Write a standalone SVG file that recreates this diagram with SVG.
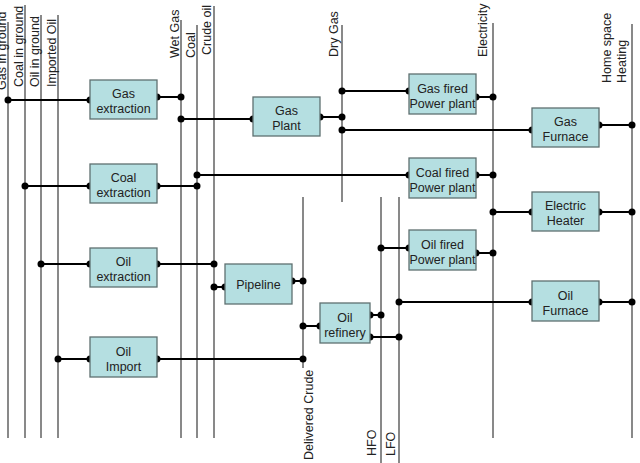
<svg xmlns="http://www.w3.org/2000/svg" width="640" height="463" viewBox="0 0 640 463">
<style>
.bus{stroke:#4a4a4a;stroke-width:1.3;fill:none}
.lbl{font-family:"Liberation Sans",Arial,sans-serif;font-size:12.5px;fill:#222}
.box{fill:#b5dfe1;stroke:#5f7070;stroke-width:1.3}
.bt{font-family:"Liberation Sans",Arial,sans-serif;font-size:12.5px;fill:#222;text-anchor:middle}
.c{stroke:#000;stroke-width:2;fill:none}
.d{fill:#000}
</style>
<rect width="640" height="463" fill="#fff"/>
<g id="buses">
  <g id="bus-gas-in-ground"><line class="bus" x1="8" y1="22" x2="8" y2="438"/><text class="lbl" transform="translate(6,90) rotate(-90)">Gas in ground</text></g>
  <g id="bus-coal-in-ground"><line class="bus" x1="25" y1="5" x2="25" y2="438"/><text class="lbl" transform="translate(23,87) rotate(-90)">Coal in ground</text></g>
  <g id="bus-oil-in-ground"><line class="bus" x1="41" y1="15" x2="41" y2="438"/><text class="lbl" transform="translate(39,87) rotate(-90)">Oil in ground</text></g>
  <g id="bus-imported-oil"><line class="bus" x1="58" y1="15" x2="58" y2="438"/><text class="lbl" transform="translate(55.5,87) rotate(-90)">Imported Oil</text></g>
  <g id="bus-wet-gas"><line class="bus" x1="181" y1="20" x2="181" y2="438"/><text class="lbl" transform="translate(178.5,58) rotate(-90)">Wet Gas</text></g>
  <g id="bus-coal"><line class="bus" x1="197" y1="25" x2="197" y2="438"/><text class="lbl" transform="translate(194.5,58) rotate(-90)">Coal</text></g>
  <g id="bus-crude-oil"><line class="bus" x1="214" y1="6" x2="214" y2="438"/><text class="lbl" transform="translate(211,55) rotate(-90)">Crude oil</text></g>
  <g id="bus-dry-gas"><line class="bus" x1="342" y1="25" x2="342" y2="202"/><text class="lbl" transform="translate(338,57) rotate(-90)">Dry Gas</text></g>
  <g id="bus-electricity"><line class="bus" x1="493" y1="23" x2="493" y2="438"/><text class="lbl" transform="translate(486.5,57) rotate(-90)">Electricity</text></g>
  <g id="bus-home-space-heating"><line class="bus" x1="632" y1="24" x2="632" y2="438"/><text class="lbl" transform="translate(611,83) rotate(-90)">Home space</text><text class="lbl" transform="translate(625.5,83) rotate(-90)">Heating</text></g>
  <g id="bus-delivered-crude"><line class="bus" x1="303" y1="197" x2="303" y2="368"/><text class="lbl" transform="translate(313,460) rotate(-90)">Delivered Crude</text></g>
  <g id="bus-hfo"><line class="bus" x1="381" y1="197" x2="381" y2="463"/><text class="lbl" transform="translate(376,456) rotate(-90)">HFO</text></g>
  <g id="bus-lfo"><line class="bus" x1="399" y1="197" x2="399" y2="463"/><text class="lbl" transform="translate(395,456) rotate(-90)">LFO</text></g>
</g>
<g id="connectors">
  <path class="c" d="M8,100H90 M157,97H181 M181,119H253 M320,117H342 M342,91H409 M476,97H493 M342,130H532 M599,125H632 M25,186H90 M157,186H197 M197,175H409 M476,175H493 M41,264H90 M157,264H214 M214,287H225 M292,281H303 M58,359H90 M157,359H303 M303,326H320 M370,315H381 M370,337H399 M381,248H409 M476,253H493 M493,212H532 M599,212H632 M399,302H532 M599,302H632"/>
  <g class="d">
    <circle cx="8" cy="100" r="3.5"/><circle cx="90" cy="100" r="3.5"/>
    <circle cx="157" cy="97" r="3.5"/><circle cx="181" cy="97" r="3.5"/>
    <circle cx="181" cy="119" r="3.5"/><circle cx="253" cy="119" r="3.5"/>
    <circle cx="320" cy="117" r="3.5"/><circle cx="342" cy="117" r="3.5"/>
    <circle cx="342" cy="91" r="3.5"/><circle cx="409" cy="91" r="3.5"/>
    <circle cx="476" cy="97" r="3.5"/><circle cx="493" cy="97" r="3.5"/>
    <circle cx="342" cy="130" r="3.5"/><circle cx="532" cy="130" r="3.5"/>
    <circle cx="599" cy="125" r="3.5"/><circle cx="632" cy="125" r="3.5"/>
    <circle cx="25" cy="186" r="3.5"/><circle cx="90" cy="186" r="3.5"/>
    <circle cx="157" cy="186" r="3.5"/><circle cx="197" cy="186" r="3.5"/>
    <circle cx="197" cy="175" r="3.5"/><circle cx="409" cy="175" r="3.5"/>
    <circle cx="476" cy="175" r="3.5"/><circle cx="493" cy="175" r="3.5"/>
    <circle cx="41" cy="264" r="3.5"/><circle cx="90" cy="264" r="3.5"/>
    <circle cx="157" cy="264" r="3.5"/><circle cx="214" cy="264" r="3.5"/>
    <circle cx="214" cy="287" r="3.5"/><circle cx="225" cy="287" r="3.5"/>
    <circle cx="292" cy="281" r="3.5"/><circle cx="303" cy="281" r="3.5"/>
    <circle cx="58" cy="359" r="3.5"/><circle cx="90" cy="359" r="3.5"/>
    <circle cx="157" cy="359" r="3.5"/><circle cx="303" cy="359" r="3.5"/>
    <circle cx="303" cy="326" r="3.5"/><circle cx="320" cy="326" r="3.5"/>
    <circle cx="370" cy="315" r="3.5"/><circle cx="381" cy="315" r="3.5"/>
    <circle cx="370" cy="337" r="3.5"/><circle cx="399" cy="337" r="3.5"/>
    <circle cx="381" cy="248" r="3.5"/><circle cx="409" cy="248" r="3.5"/>
    <circle cx="476" cy="253" r="3.5"/><circle cx="493" cy="253" r="3.5"/>
    <circle cx="493" cy="212" r="3.5"/><circle cx="532" cy="212" r="3.5"/>
    <circle cx="599" cy="212" r="3.5"/><circle cx="632" cy="212" r="3.5"/>
    <circle cx="399" cy="302" r="3.5"/><circle cx="532" cy="302" r="3.5"/>
    <circle cx="599" cy="302" r="3.5"/><circle cx="632" cy="302" r="3.5"/>
  </g>
</g>
<g id="gas-extraction"><rect class="box" x="90" y="80" width="67" height="39"/><text class="bt" x="123.5" y="98">Gas</text><text class="bt" x="123.5" y="113">extraction</text></g>
<g id="gas-plant"><rect class="box" x="253" y="97" width="67" height="39"/><text class="bt" x="286.5" y="115">Gas</text><text class="bt" x="286.5" y="130">Plant</text></g>
<g id="gas-fired-power-plant"><rect class="box" x="409" y="74" width="67" height="40"/><text class="bt" x="442.5" y="92.5">Gas fired</text><text class="bt" x="442.5" y="107.5">Power plant</text></g>
<g id="gas-furnace"><rect class="box" x="532" y="108" width="67" height="39"/><text class="bt" x="565.5" y="126">Gas</text><text class="bt" x="565.5" y="141">Furnace</text></g>
<g id="coal-extraction"><rect class="box" x="90" y="164" width="67" height="39"/><text class="bt" x="123.5" y="182">Coal</text><text class="bt" x="123.5" y="197">extraction</text></g>
<g id="coal-fired-power-plant"><rect class="box" x="409" y="158" width="67" height="40"/><text class="bt" x="442.5" y="176.5">Coal fired</text><text class="bt" x="442.5" y="191.5">Power plant</text></g>
<g id="electric-heater"><rect class="box" x="532" y="192" width="67" height="39"/><text class="bt" x="565.5" y="210">Electric</text><text class="bt" x="565.5" y="225">Heater</text></g>
<g id="oil-extraction"><rect class="box" x="90" y="248" width="67" height="39"/><text class="bt" x="123.5" y="266">Oil</text><text class="bt" x="123.5" y="281">extraction</text></g>
<g id="oil-fired-power-plant"><rect class="box" x="409" y="230" width="67" height="40"/><text class="bt" x="442.5" y="248.5">Oil fired</text><text class="bt" x="442.5" y="263.5">Power plant</text></g>
<g id="pipeline"><rect class="box" x="225" y="264" width="67" height="40"/><text class="bt" x="258.5" y="288.5">Pipeline</text></g>
<g id="oil-furnace"><rect class="box" x="532" y="281" width="67" height="40"/><text class="bt" x="565.5" y="299.5">Oil</text><text class="bt" x="565.5" y="314.5">Furnace</text></g>
<g id="oil-refinery"><rect class="box" x="320" y="303" width="50" height="40"/><text class="bt" x="345" y="321.5">Oil</text><text class="bt" x="345" y="336.5">refinery</text></g>
<g id="oil-import"><rect class="box" x="90" y="337" width="67" height="40"/><text class="bt" x="123.5" y="355.5">Oil</text><text class="bt" x="123.5" y="370.5">Import</text></g>
</svg>
